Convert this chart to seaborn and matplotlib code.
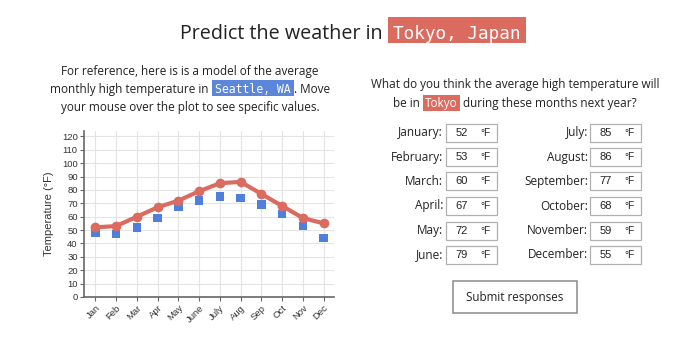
import matplotlib
matplotlib.use("Agg")
import matplotlib.pyplot as plt
from matplotlib.patches import Rectangle
import pandas as pd
import seaborn as sns

# ---- data -------------------------------------------------------------
months = ["Jan", "Feb", "Mar", "Apr", "May", "June",
          "July", "Aug", "Sep", "Oct", "Nov", "Dec"]
month_names = ["January", "February", "March", "April", "May", "June",
               "July", "August", "September", "October", "November", "December"]
tokyo_guess = [52, 53, 60, 67, 72, 79, 85, 86, 77, 68, 59, 55]
seattle_high = [48, 47, 52, 59, 67, 72, 75, 74, 69, 62, 53, 44]
y_ticks = list(range(0, 121, 10))

RED = "#db6a5f"
BLUE = "#4f7fdc"
HL_BLUE = "#5b86da"
TXT = "#222222"
SANS = ["Open Sans", "DejaVu Sans"]
MONO = ["DejaVu Sans Mono"]

sns.set_style("white")
plt.rcParams["font.family"] = SANS

W, H = 699, 341
fig = plt.figure(figsize=(W / 100, H / 100), dpi=100)
renderer = fig.canvas.get_renderer()


def fx(px):
    return px / W


def fy(py):
    return 1 - py / H


def inline(segments, cx, base, box=(14, 3), pad=3):
    """Lay out one centred line of text made of plain and highlighted runs."""
    items = []
    for text, hl, fam, size in segments:
        t = fig.text(0, fy(base), text, fontsize=size, family=fam,
                     color="white" if hl else TXT, va="baseline", ha="left",
                     zorder=3)
        w = t.get_window_extent(renderer).width
        p = pad if hl else 0
        items.append((t, w, p, hl))
    total = sum(w + 2 * p for _, w, p, _ in items)
    x = cx - total / 2
    for t, w, p, hl in items:
        if hl:
            fig.patches.append(Rectangle((fx(x), fy(base + box[1])),
                                         (w + 2 * p) / W,
                                         (box[0] + box[1]) / H,
                                         transform=fig.transFigure,
                                         facecolor=hl, edgecolor="none",
                                         zorder=2))
        t.set_x(fx(x + p))
        x += w + 2 * p


# ---- headings ---------------------------------------------------------
inline([("Predict the weather in ", None, SANS, 14.2),
        ("Tokyo, Japan", RED, MONO, 12.8)],
       353, 39, box=(22, 4), pad=5)

P = 8.5
inline([("For reference, here is is a model of the average", None, SANS, P)],
       190, 75)
inline([("monthly high temperature in ", None, SANS, P),
        ("Seattle, WA", HL_BLUE, MONO, 8.3),
        (". Move", None, SANS, P)], 190, 93, box=(13, 3), pad=3)
inline([("your mouse over the plot to see specific values.", None, SANS, P)],
       190, 111)

inline([("What do you think the average high temperature will", None, SANS, P)],
       515, 88)
inline([("be in ", None, SANS, P), ("Tokyo", RED, SANS, P),
        (" during these months next year?", None, SANS, P)], 515, 107,
       box=(12, 4), pad=2)

# ---- chart ------------------------------------------------------------
df = pd.DataFrame({"month": months, "idx": range(12),
                   "tokyo": tokyo_guess, "seattle": seattle_high})

ax = fig.add_axes([fx(84), fy(297), (334 - 84) / W, (297 - 131) / H])
sns.scatterplot(data=df, x="idx", y="seattle", marker="s", s=36, color=BLUE,
                edgecolor="none", ax=ax, zorder=3)
sns.lineplot(data=df, x="idx", y="tokyo", color=RED, linewidth=3,
             marker="o", markersize=7, markeredgewidth=0, ax=ax, zorder=4)

ax.set_xlim(-0.55, 11.5)
ax.set_ylim(0, 124)
ax.set_xticks(range(12))
ax.set_xticklabels(months, rotation=45, ha="right", rotation_mode="anchor",
                   family=["Liberation Sans"], fontsize=6.8, color="#333333")
ax.set_yticks(y_ticks)
ax.set_yticklabels([str(v) for v in y_ticks], family=["Liberation Sans"],
                   fontsize=6.8, color="#333333")
ax.tick_params(axis="both", length=3, width=0.8, color="#666666", pad=1.5,
               left=True, bottom=True)
ax.grid(True, color="#e4e4e4", linewidth=0.8, zorder=0)
ax.set_axisbelow(True)
for s in ("top", "right"):
    ax.spines[s].set_visible(False)
for s in ("left", "bottom"):
    ax.spines[s].set_color("#666666")
    ax.spines[s].set_linewidth(1.2)
ax.set_xlabel("")
ax.set_ylabel("Temperature (°F)", family=["Liberation Sans"], fontsize=8,
              color="#333333", labelpad=6)

# ---- answer form ------------------------------------------------------
row_y = [132.5, 157, 181.5, 206, 230.5, 255]
cols = [(443, 446, month_names[:6], tokyo_guess[:6]),
        (588, 590, month_names[6:], tokyo_guess[6:])]
for label_x, box_x, names, vals in cols:
    for y, name, v in zip(row_y, names, vals):
        fig.text(fx(label_x), fy(y), name + ":", fontsize=8.5, color=TXT,
                 ha="right", va="center")
        fig.patches.append(Rectangle((fx(box_x), fy(y + 9)), 51 / W, 18 / H,
                                     transform=fig.transFigure,
                                     facecolor="white", edgecolor="#b0b0b0",
                                     linewidth=0.9))
        fig.text(fx(box_x + 16), fy(y), str(v), fontsize=8,
                 family=["Liberation Sans"], color=TXT, ha="center", va="center")
        fig.text(fx(box_x + 39), fy(y), "°F", fontsize=7.2,
                 family=["Liberation Sans"], color=TXT, ha="center", va="center")

fig.patches.append(Rectangle((fx(453), fy(313)), 124 / W, 32 / H,
                             transform=fig.transFigure, facecolor="white",
                             edgecolor="#8a8a8a", linewidth=1.1))
fig.text(fx(515), fy(297), "Submit responses", fontsize=8.4, color=TXT,
         ha="center", va="center")

fig.savefig("out.png", dpi=100)
